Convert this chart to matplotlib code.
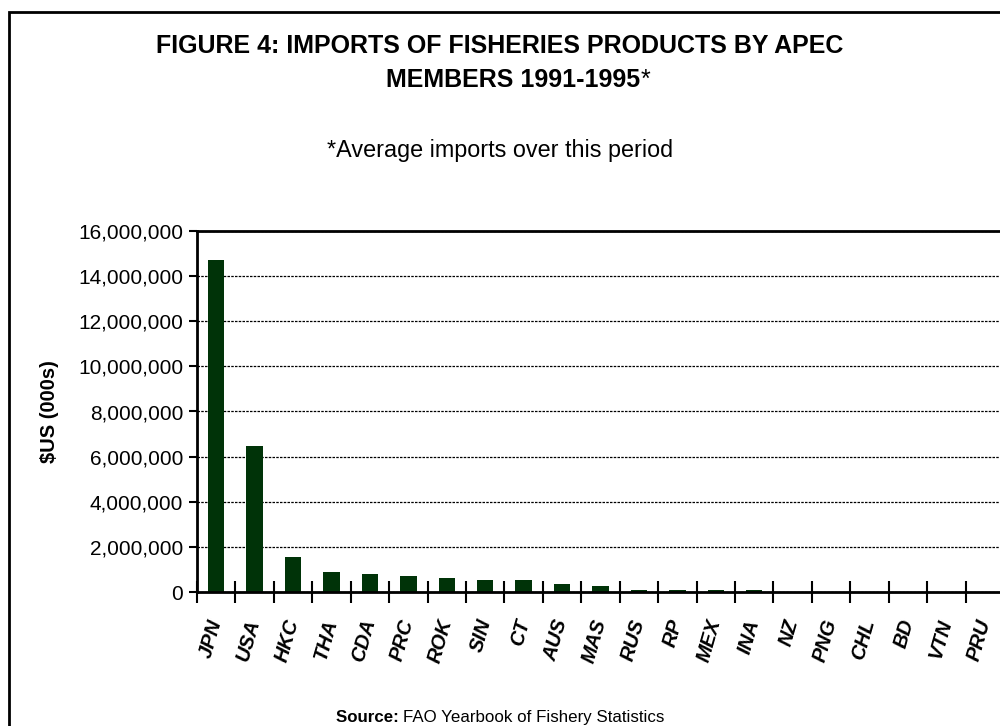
import matplotlib
matplotlib.use("Agg")
import matplotlib.pyplot as plt
from matplotlib.ticker import FuncFormatter, FixedLocator
from matplotlib.patches import Rectangle

# average imports 1991-1995, $US (000s)
members = ["JPN", "USA", "HKC", "THA", "CDA", "PRC", "ROK", "SIN", "CT", "AUS", "MAS",
           "RUS", "RP", "MEX", "INA", "NZ", "PNG", "CHL", "BD", "VTN", "PRU"]
imports = [14700000, 6470000, 1540000, 880000, 800000, 700000, 610000, 520000, 520000,
           340000, 250000, 80000, 80000, 80000, 80000, 15000, 10000, 10000, 8000, 8000, 8000]

plt.rcParams['font.family'] = ['Liberation Sans', 'DejaVu Sans']

fig = plt.figure(figsize=(10, 7.26), dpi=100)
ax = fig.add_axes([0.197, 1 - 592 / 726, 1.004 - 0.197, (592 - 231) / 726])

x = range(len(members))
ax.bar(x, imports, width=0.43, color='#003308', zorder=3)

ax.set_xlim(-0.5, len(members) - 0.5)
ax.set_ylim(0, 16000000)
ax.set_yticks(range(0, 16000001, 2000000))
ax.yaxis.set_major_formatter(FuncFormatter(lambda v, p: f"{int(v):,}"))
ax.tick_params(axis='y', direction='out', length=6, width=1.5, labelsize=15, pad=4)

# ticks between categories, labels at the centres
ax.xaxis.set_major_locator(FixedLocator([i - 0.5 for i in range(len(members) + 1)]))
ax.xaxis.set_minor_locator(FixedLocator(list(x)))
ax.xaxis.set_major_formatter(FuncFormatter(lambda v, p: ""))
ax.set_xticklabels(members, minor=True)
ax.tick_params(axis='x', which='major', direction='inout', length=16, width=1.5)
ax.tick_params(axis='x', which='minor', length=0, pad=20)
for lab in ax.get_xticklabels(minor=True):
    lab.set_rotation(74)
    lab.set_rotation_mode('anchor')
    lab.set_ha('right')
    lab.set_va('center')
    lab.set_fontsize(14.5)
    lab.set_fontweight('bold')
    lab.set_fontstyle('italic')

ax.grid(axis='y', color='black', linestyle=(0, (2, 1)), linewidth=0.9, zorder=1)
for s in ax.spines.values():
    s.set_linewidth(2)
    s.set_zorder(4)

ax.set_ylabel('$US (000s)', fontsize=14.5, fontweight='bold', labelpad=14)

fig.text(0.5, 1 - 53 / 726, 'FIGURE 4: IMPORTS OF FISHERIES PRODUCTS BY APEC',
         ha='center', va='baseline', fontsize=18, fontweight='bold')
fig.text(0.5, 1 - 157 / 726, '*Average imports over this period',
         ha='center', va='baseline', fontsize=16.8)


def two_part(x0, y, bold_txt, plain_txt, size):
    # bold part followed by plain part; x0=None centres the pair
    renderer = fig.canvas.get_renderer()
    b = fig.text(0, y, bold_txt, fontsize=size, fontweight='bold', va='baseline')
    p = fig.text(0, y, plain_txt, fontsize=size, va='baseline')
    wb = b.get_window_extent(renderer).width / fig.bbox.width
    wp = p.get_window_extent(renderer).width / fig.bbox.width
    if x0 is None:
        x0 = 0.5 - (wb + wp) / 2
    b.set_x(x0)
    p.set_x(x0 + wb)


two_part(0.386, 1 - 87 / 726, 'MEMBERS 1991-1995', '*', 18)
two_part(None, 1 - 722 / 726, 'Source: ', 'FAO Yearbook of Fishery Statistics', 12.2)

# outer frame, runs off the right and bottom edges
fig.patches.append(Rectangle((9 / 1000, -0.05), 1.2, 1 - 12 / 726 + 0.05,
                             transform=fig.transFigure, fill=False,
                             edgecolor='black', linewidth=2))

fig.savefig('out.png', dpi=100)
